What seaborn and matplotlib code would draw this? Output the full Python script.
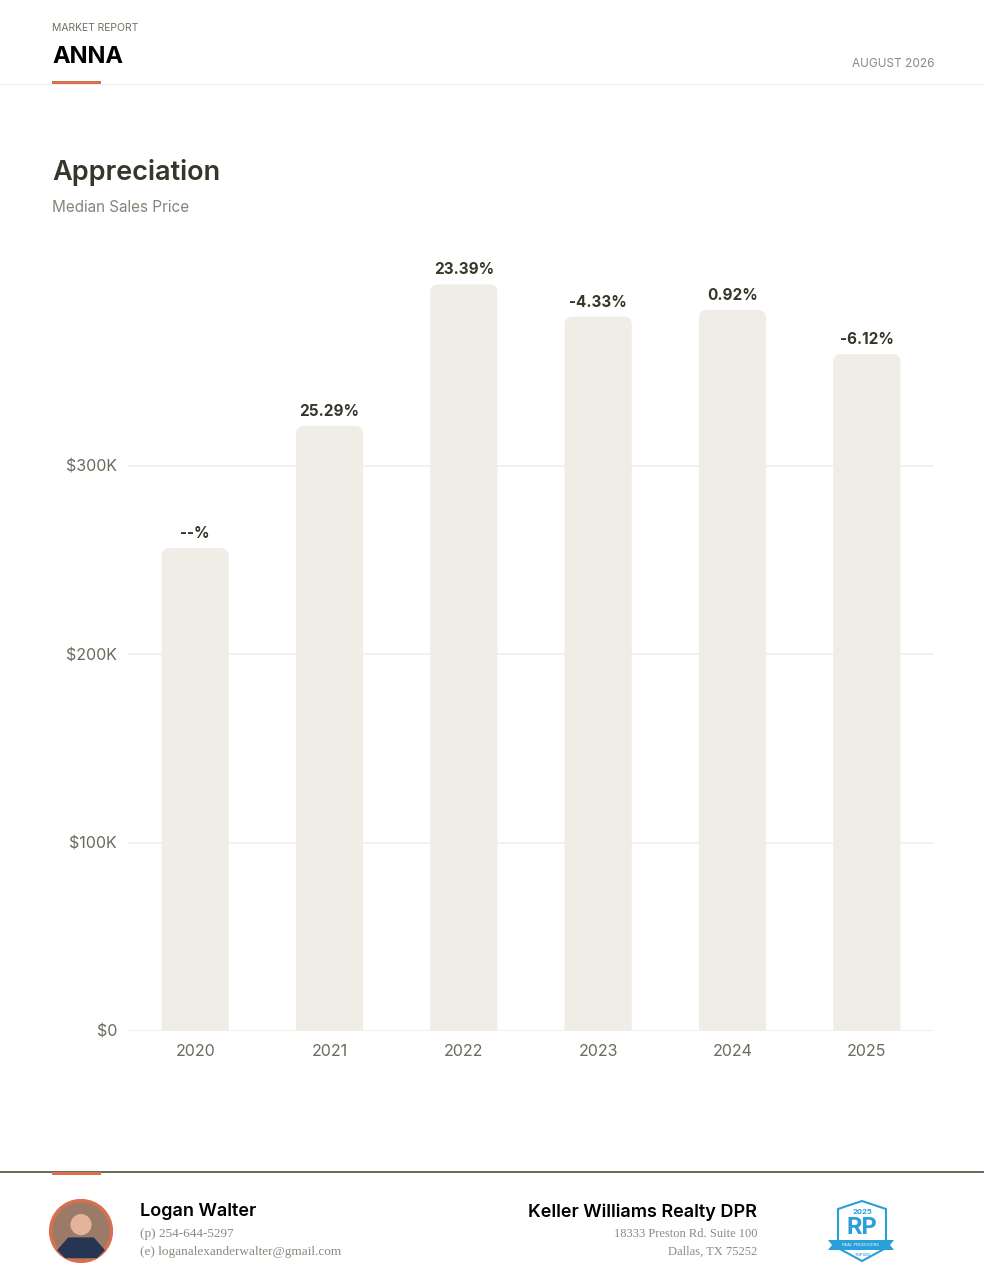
import matplotlib
matplotlib.use("Agg")
import matplotlib.pyplot as plt
import seaborn as sns
import pandas as pd
from matplotlib.patches import FancyBboxPatch, Circle, Polygon, Rectangle
from matplotlib.ticker import FuncFormatter

# data
years = ["2020", "2021", "2022", "2023", "2024", "2025"]
median_price = [256200, 321000, 396100, 379000, 382500, 359100]
change_labels = ["--%", "25.29%", "23.39%", "-4.33%", "0.92%", "-6.12%"]
y_ticks = [0, 100000, 200000, 300000]

W, H = 984, 1282
sns.set_theme(style="white")
plt.rcParams["font.family"] = ["Inter", "DejaVu Sans"]

fig = plt.figure(figsize=(W / 100, H / 100), dpi=100)
fig.patch.set_facecolor("white")


def fx(x):
    return x / W


def fy(y):
    return 1 - y / H


orange = "#d8704f"
dark = "#36362a"
grey = "#85857a"

# header
fig.text(fx(52), fy(28), "MARKET REPORT", fontsize=7.5, color="#707064",
         va="center", ha="left")
fig.text(fx(52), fy(57), "ANNA", fontsize=17, fontweight="bold", color="black",
         va="center", ha="left")
fig.text(fx(934), fy(64), "AUGUST 2026", fontsize=8.5, color="#8a8a80",
         va="center", ha="right")
fig.add_artist(Rectangle((0, fy(85)), 1, 1.5 / H, transform=fig.transFigure,
                         color="#ececec", lw=0))
fig.add_artist(Rectangle((fx(52), fy(84)), fx(49), 3 / H, transform=fig.transFigure,
                         color=orange, lw=0))

# titles
fig.text(fx(52), fy(173), "Appreciation", fontsize=19.5, fontweight="semibold",
         color=dark, va="center", ha="left")
fig.text(fx(52), fy(207), "Median Sales Price", fontsize=11, color=grey,
         va="center", ha="left")

# chart
ax = fig.add_axes([fx(128), fy(1031), fx(934) - fx(128), (1031 - 277) / H])
df = pd.DataFrame({"year": years, "price": median_price})
sns.barplot(data=df, x="year", y="price", color="#f0ede6", width=0.5,
            saturation=1, ax=ax)
ax.set_ylim(0, 400000)
ax.set_xlim(-0.5, 5.5)
ax.set_yticks(y_ticks)
ax.yaxis.set_major_formatter(FuncFormatter(
    lambda v, p: "$0" if v == 0 else f"${int(v / 1000)}K"))
ax.set_xlabel("")
ax.set_ylabel("")
ax.grid(axis="y", color="#efefef", lw=1.2)
ax.set_axisbelow(True)
for s in ax.spines.values():
    s.set_visible(False)
ax.tick_params(axis="both", length=0, labelsize=11.5, labelcolor="#6a6a5e")
ax.tick_params(axis="y", pad=8)
ax.tick_params(axis="x", pad=9)

# rounded tops for the bars
fig.canvas.draw()
p0 = ax.transData.transform((0, 0))
p1 = ax.transData.transform((1, 1))
aspect = (p1[0] - p0[0]) / (p1[1] - p0[1])
for bar in list(ax.patches):
    x, w, h = bar.get_x(), bar.get_width(), bar.get_height()
    bar.remove()
    rb = FancyBboxPatch((x, -30000), w, h + 30000,
                        boxstyle="round,pad=0,rounding_size=0.06",
                        mutation_aspect=aspect, fc="#f0ede6", ec="none", zorder=2)
    ax.add_patch(rb)

for i, lab in enumerate(change_labels):
    ax.annotate(lab, (i, median_price[i]), xytext=(0, 5), textcoords="offset points",
                ha="center", va="bottom", fontsize=11, fontweight="bold",
                color=dark, annotation_clip=False)

# footer
fig.add_artist(Rectangle((0, fy(1172.5)), 1, 1.3 / H, transform=fig.transFigure,
                         color="#6e6e58", lw=0))
fig.add_artist(Rectangle((fx(52), fy(1175)), fx(49), 3 / H, transform=fig.transFigure,
                         color=orange, lw=0))

# photo placeholder
pax = fig.add_axes([fx(49), fy(1263), fx(64), 64 / H])
pax.set_xlim(-1, 1)
pax.set_ylim(-1, 1)
pax.set_aspect("equal")
pax.axis("off")
pax.add_patch(Circle((0, 0), 0.95, fc="#9c7a68", ec=orange, lw=2.5))
pax.add_patch(Polygon([(-0.75, -0.6), (-0.4, -0.2), (0.4, -0.2), (0.75, -0.6),
                       (0.5, -0.85), (-0.5, -0.85)], fc="#263554", ec="none"))
pax.add_patch(Circle((0, 0.2), 0.33, fc="#e3b49a", ec="none"))

fig.text(fx(140), fy(1212), "Logan Walter", fontsize=13, fontweight="semibold",
         color="black", va="center", ha="left")
fig.text(fx(140), fy(1234), "(p) 254-644-5297", fontsize=9.5, color="#8a8a80",
         family="Liberation Serif", va="center", ha="left")
fig.text(fx(140), fy(1252), "(e) loganalexanderwalter@gmail.com", fontsize=9.5,
         color="#8a8a80", family="Liberation Serif", va="center", ha="left")

fig.text(fx(757), fy(1212), "Keller Williams Realty DPR", fontsize=13,
         fontweight="semibold", color="black", va="center", ha="right")
fig.text(fx(757), fy(1234), "18333 Preston Rd. Suite 100", fontsize=9,
         color="#8a8a80", family="Liberation Serif", va="center", ha="right")
fig.text(fx(757), fy(1252), "Dallas, TX 75252", fontsize=9, color="#8a8a80",
         family="Liberation Serif", va="center", ha="right")

# badge
bax = fig.add_axes([fx(826), fy(1262), fx(70), 62 / H])
bax.set_xlim(0, 70)
bax.set_ylim(0, 62)
bax.axis("off")
blue = "#2b9fd9"
bax.add_patch(Polygon([(12, 53), (36, 61), (60, 53), (60, 14), (36, 1), (12, 14)],
                      closed=True, fc="white", ec=blue, lw=1.5))
bax.text(36, 50, "2025", fontsize=5.5, fontweight="bold", color=blue, ha="center", va="center")
bax.text(36, 34, "RP", fontsize=17, fontweight="bold", color=blue, ha="center", va="center")
bax.add_patch(Polygon([(2, 22), (68, 22), (64, 17), (68, 12), (2, 12), (6, 17)],
                      fc=blue, ec="none"))
bax.text(35, 17, "REAL PRODUCERS", fontsize=3, color="white", ha="center", va="center")
bax.text(36, 7.5, "TOP 500", fontsize=2.5, fontweight="bold", color=blue, ha="center", va="center")

fig.savefig("out.png", dpi=100, facecolor="white")
